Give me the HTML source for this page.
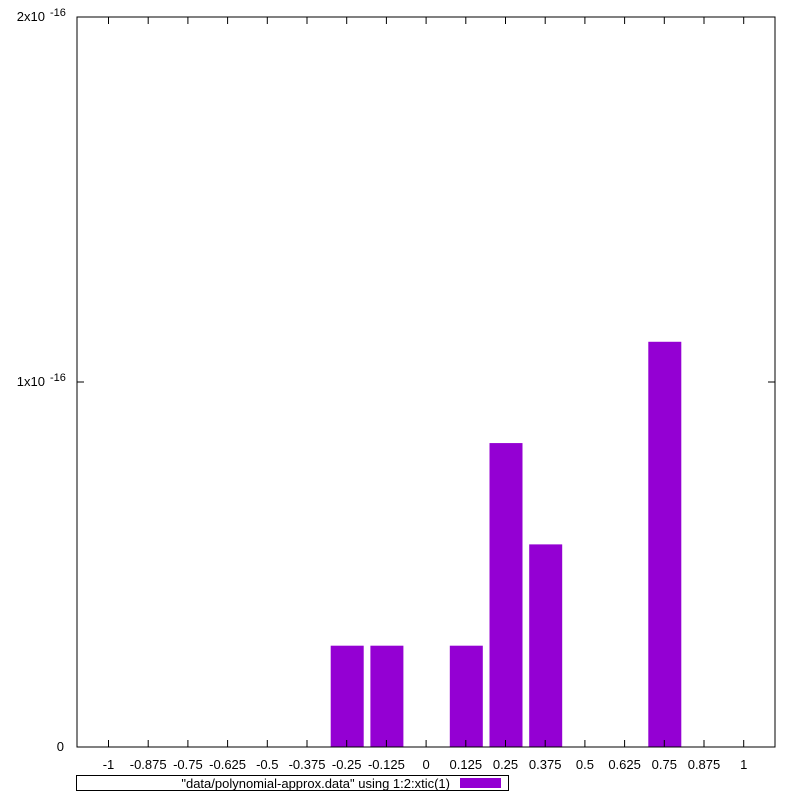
<!DOCTYPE html>
<html><head><meta charset="utf-8"><style>
body{margin:0;background:#fff}
svg text{font-family:"Liberation Sans",Arial,sans-serif;font-size:13px;fill:#000}
</style></head><body>
<svg width="800" height="800">
<g id="plot"></g>
</svg>
<script>
const categories=["-1","-0.875","-0.75","-0.625","-0.5","-0.375","-0.25","-0.125","0","0.125","0.25","0.375","0.5","0.625","0.75","0.875","1"];
const values=[0,0,0,0,0,0,2.7756e-17,2.7756e-17,0,2.7756e-17,8.3267e-17,5.5511e-17,0,0,1.1102e-16,0,0];
const yTicks=[0,1e-16,2e-16];
const yTickLabels=["0","1x10","2x10"];
const yTickExp=["","-16","-16"];
const L=77,R=775,T=17,B=747,yMax=2e-16;
const x0=108.5,step=39.7;
const xs=i=>x0+i*step;
const ys=v=>B-(v/yMax)*(B-T);
const NS="http://www.w3.org/2000/svg";
const g=document.getElementById('plot');
function mk(t,a,txt){const e=document.createElementNS(NS,t);for(const k in a)e.setAttribute(k,a[k]);if(txt!==undefined)e.textContent=txt;g.appendChild(e);return e;}
values.forEach((v,i)=>{if(v<=0)return;const y=ys(v);
const r=mk('rect',{x:xs(i)-16,y:y,width:33,height:B-y,fill:'#9400d3'});

});
const f=mk('rect',{x:L,y:T,width:R-L,height:B-T,fill:'none',stroke:'#000','stroke-width':1});


categories.forEach((c,i)=>{const x=xs(i);
mk('line',{x1:x,y1:B,x2:x,y2:B-7,stroke:'#000'});
mk('line',{x1:x,y1:T,x2:x,y2:T+7,stroke:'#000'});
const t=mk('text',{x:x,y:769,'text-anchor':'middle'},c);

});
yTicks.forEach((v,i)=>{const y=ys(v);
mk('line',{x1:L,y1:y,x2:L+7,y2:y,stroke:'#000'});
mk('line',{x1:R,y1:y,x2:R-7,y2:y,stroke:'#000'});
const t=mk('text',{x:yTickExp[i]?45:64,y:y+4,'text-anchor':'end'},yTickLabels[i]);


if(yTickExp[i]){const e=mk('text',{x:50,y:y-1},yTickExp[i]);e.style.fontSize='11px';

}});
const lb=mk('rect',{x:76.5,y:775.5,width:432,height:15,fill:'none',stroke:'#000'});


const lt=mk('text',{x:450,y:788,'text-anchor':'end'},'"data/polynomial-approx.data" using 1:2:xtic(1)');


const ls=mk('rect',{x:460,y:778,width:41,height:10,fill:'#9400d3'});


</script>
</body></html>
